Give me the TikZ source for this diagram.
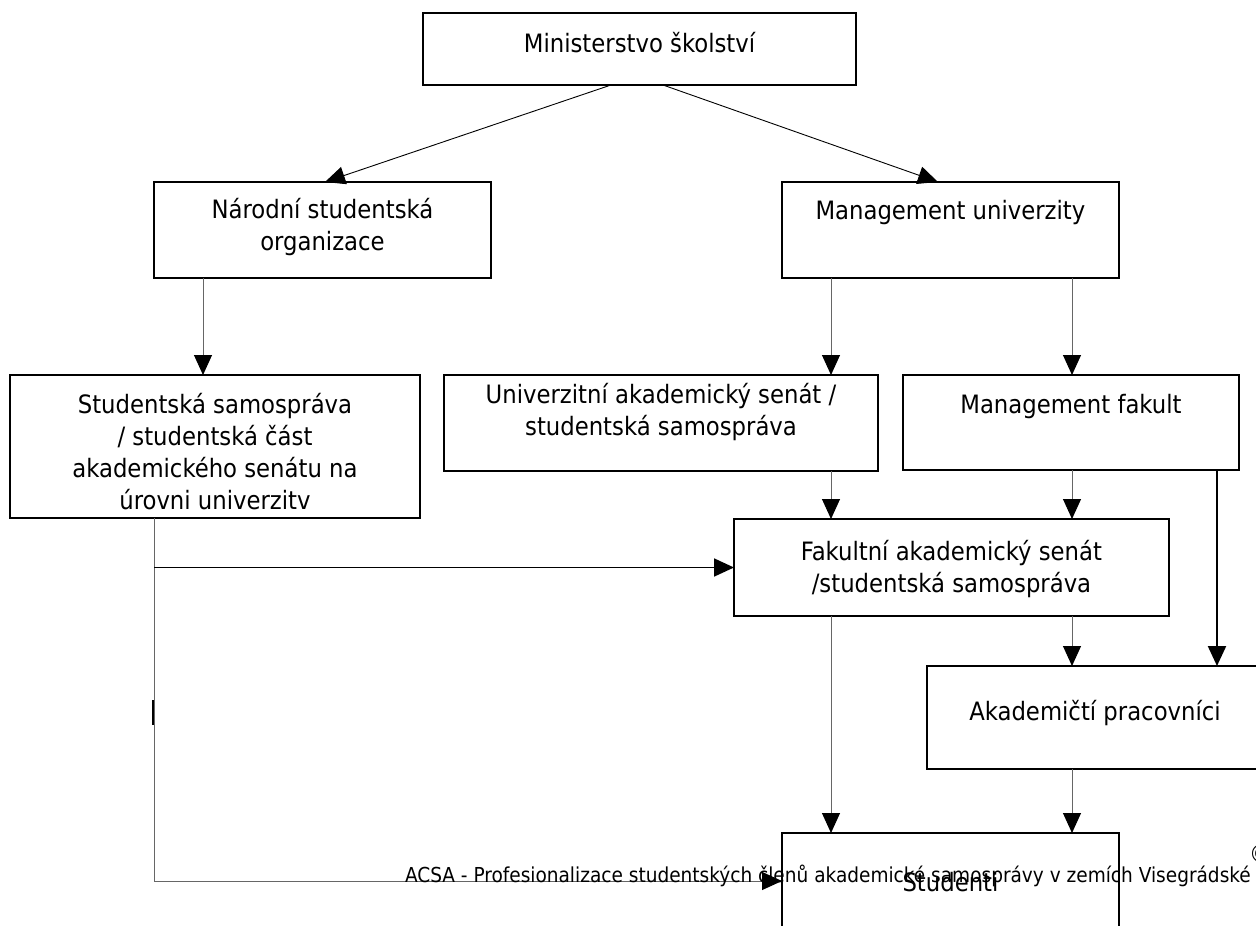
\documentclass[tikz,border=0pt]{standalone}
\usepackage{fontspec}
\setmainfont{DejaVu Sans Condensed}
\usetikzlibrary{arrows.meta}
\tikzset{
  box/.style={draw=black, line width=1.6pt, rectangle, inner sep=0pt, outer sep=0pt, fill=white, anchor=north west},
  txt/.style={inner sep=0pt, outer sep=0pt, anchor=base, text=black},
  conn/.style={draw=black!60, line width=1pt},
  diag/.style={draw=black, line width=0.9pt},
  heavy/.style={draw=black, line width=2.2pt},
  hline/.style={draw=black, line width=1.8pt},
  arr/.style={-{Triangle[length=20pt,width=18pt,color=black]}},
}
\newcommand\mf[1]{\fontsize{25.3}{#1}\selectfont}
\begin{document}
\begin{tikzpicture}[x=1pt,y=-1pt]
\path[use as bounding box, fill=white] (0,0) rectangle (1256,926);
% boxes
\node[box, minimum width=433pt, minimum height=72pt] (min) at (423,13) {};
\node[box, minimum width=337pt, minimum height=96pt] (nar) at (154,182) {};
\node[box, minimum width=337pt, minimum height=96pt] (mgu) at (782,182) {};
\node[box, minimum width=410pt, minimum height=143pt] (stu) at (10,375) {};
\node[box, minimum width=434pt, minimum height=96pt] (uni) at (444,375) {};
\node[box, minimum width=336pt, minimum height=95pt] (mgf) at (903,375) {};
\node[box, minimum width=435pt, minimum height=97pt] (fak) at (734,519) {};
\node[box, minimum width=336pt, minimum height=103pt] (aka) at (927,666) {};
\node[box, minimum width=337pt, minimum height=96pt] (sti) at (782,833) {};
% texts
\node[txt, font=\mf{32}] (minT) at ([yshift=-39pt]min.north) {Ministerstvo školství};
\node[txt, font=\mf{32}] (narT) at ([yshift=-36pt]nar.north) {\begin{tabular}[t]{@{}c@{}}Národní studentská\\organizace\end{tabular}};
\node[txt, font=\mf{32}] (mguT) at ([yshift=-37pt]mgu.north) {Management univerzity};
\node[txt, font=\mf{32}] (stuT) at ([yshift=-38pt]stu.north) {\begin{tabular}[t]{@{}c@{}}Studentská samospráva\\/ studentská část\\akademického senátu na\\úrovni univerzitv\end{tabular}};
\node[txt, font=\mf{32}] (uniT) at ([yshift=-28pt]uni.north) {\begin{tabular}[t]{@{}c@{}}Univerzitní akademický senát /\\studentská samospráva\end{tabular}};
\node[txt, font=\mf{32}] (mgfT) at ([yshift=-38pt]mgf.north) {Management fakult};
\node[txt, font=\mf{32}] (fakT) at ([yshift=-41pt]fak.north) {\begin{tabular}[t]{@{}c@{}}Fakultní akademický senát\\/studentská samospráva\end{tabular}};
\node[txt, font=\mf{32}] (akaT) at ([yshift=-54pt]aka.north) {Akademičtí pracovníci};
\node[txt, font=\mf{32}] (stiT) at ([yshift=-58pt]sti.north) {Studenti};
% connectors
\draw[diag, arr] ([xshift=-28.5pt]min.south) -- ([xshift=2.5pt]nar.north);
\draw[diag, arr] ([xshift=23.5pt]min.south) -- ([xshift=-12.5pt]mgu.north);
\draw[conn, arr] ([xshift=-119.5pt]nar.south) -- ([xshift=-119.5pt]nar.south |- stu.north);
\draw[conn, arr] ([xshift=-119.5pt]mgu.south) -- ([xshift=-119.5pt]mgu.south |- uni.north);
\draw[conn, arr] ([xshift=121.5pt]mgu.south) -- ([xshift=121.5pt]mgu.south |- mgf.north);
\draw[conn, arr] ([xshift=170pt]uni.south) -- ([xshift=170pt]uni.south |- fak.north);
\draw[conn, arr] ([xshift=1pt]mgf.south) -- ([xshift=1pt]mgf.south |- fak.north);
\draw[heavy, arr] ([xshift=146pt]mgf.south) -- ([xshift=146pt]mgf.south |- aka.north);
\draw[conn, arr] ([xshift=120.5pt]fak.south) -- ([xshift=120.5pt]fak.south |- aka.north);
\draw[conn, arr] ([xshift=-120.5pt]fak.south) -- ([xshift=-120.5pt]fak.south |- sti.north);
\draw[conn, arr] ([xshift=-23pt]aka.south) -- ([xshift=-23pt]aka.south |- sti.north);
\coordinate (lft) at ([xshift=-61pt]stu.south);
\draw[conn, arr] (lft) |- (sti.west);
\draw[hline, arr] (lft |- fak.west) -- (fak.west);
\draw[heavy] ([xshift=-1pt,yshift=-182pt]lft) -- ([xshift=-1pt,yshift=-207pt]lft);
% footer
\node[txt, anchor=base west, font=\fontsize{20.6}{24}\selectfont] (foot) at (405,882) {ACSA - Profesionalizace studentských členů akademické samosprávy v zemích Visegrádské};
\node[txt, anchor=base west, font=\fontsize{24}{28}\selectfont] (copy) at (1249,862) {©};
\end{tikzpicture}
\end{document}
